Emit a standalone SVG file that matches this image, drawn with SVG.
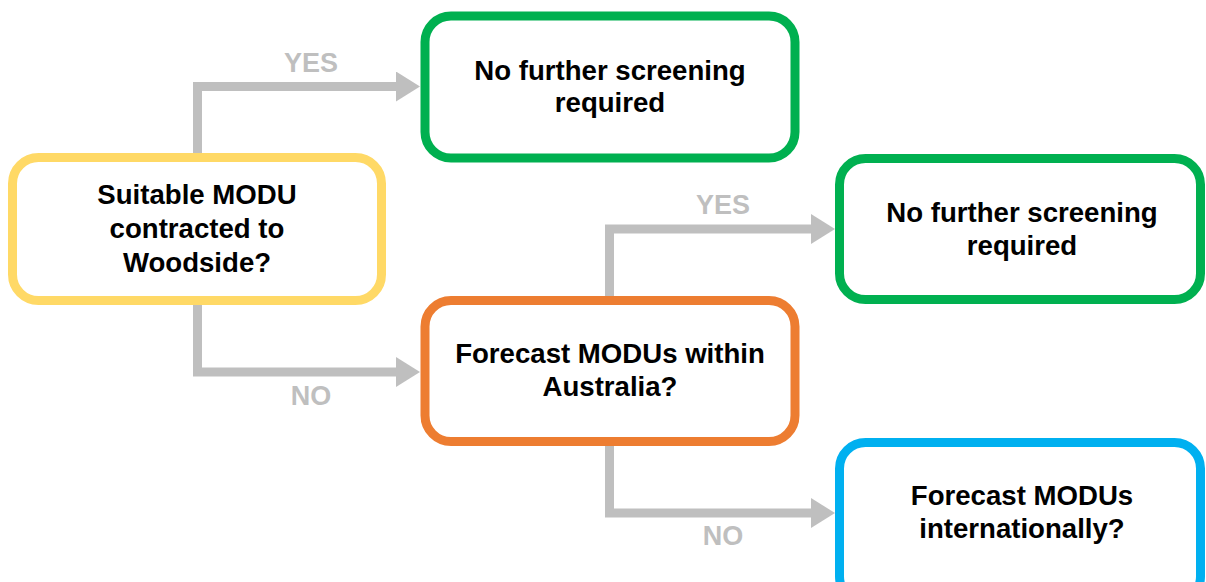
<svg xmlns="http://www.w3.org/2000/svg" width="1206" height="582" viewBox="0 0 1206 582">
<defs>
<style>
.box{fill:#fff;stroke-width:9}
.t{font-family:"Liberation Sans",Arial,sans-serif;font-weight:bold;font-size:27.6px;fill:#000;text-anchor:middle}
.lbl{font-family:"Liberation Sans",Arial,sans-serif;font-weight:bold;font-size:27px;fill:#BFBFBF;text-anchor:middle}
.c{fill:none;stroke:#BFBFBF;stroke-width:9;stroke-linejoin:miter}
</style>
<marker id="ah" markerUnits="userSpaceOnUse" markerWidth="24" markerHeight="30" refX="0" refY="15" orient="auto" viewBox="0 0 24 30">
<path d="M0,0 L24,15 L0,30 Z" fill="#BFBFBF"/>
</marker>
</defs>
<g id="connectors">
<path class="c" d="M197.5,165 V86.5 H396" marker-end="url(#ah)"/>
<path class="c" d="M197.5,295 V372 H396" marker-end="url(#ah)"/>
<path class="c" d="M609.5,305 V229 H811" marker-end="url(#ah)"/>
<path class="c" d="M609.5,440 V513 H811" marker-end="url(#ah)"/>
<text class="lbl" x="311" y="72">YES</text>
<text class="lbl" x="311" y="405">NO</text>
<text class="lbl" x="723" y="214">YES</text>
<text class="lbl" x="723" y="545">NO</text>
</g>
<g id="n-suitable">
<rect class="box" x="12.5" y="157.5" width="369" height="143" rx="26" stroke="#FFD966"/>
<text class="t" x="197" y="204">Suitable MODU</text>
<text class="t" x="197" y="238">contracted to</text>
<text class="t" x="197" y="272">Woodside?</text>
</g>
<g id="n-nofurther1">
<rect class="box" x="425" y="16" width="370" height="142" rx="26" stroke="#00B050"/>
<text class="t" x="610" y="80">No further screening</text>
<text class="t" x="610" y="112">required</text>
</g>
<g id="n-australia">
<rect class="box" x="425" y="300.5" width="370" height="141" rx="26" stroke="#ED7D31"/>
<text class="t" x="610" y="363">Forecast MODUs within</text>
<text class="t" x="610" y="396">Australia?</text>
</g>
<g id="n-nofurther2">
<rect class="box" x="839.5" y="158.5" width="361" height="141" rx="26" stroke="#00B050"/>
<text class="t" x="1022" y="222">No further screening</text>
<text class="t" x="1022" y="255">required</text>
</g>
<g id="n-international">
<rect class="box" x="839.5" y="442.5" width="361" height="160" rx="26" stroke="#00B0F0"/>
<text class="t" x="1022" y="505">Forecast MODUs</text>
<text class="t" x="1022" y="538">internationally?</text>
</g>
</svg>
